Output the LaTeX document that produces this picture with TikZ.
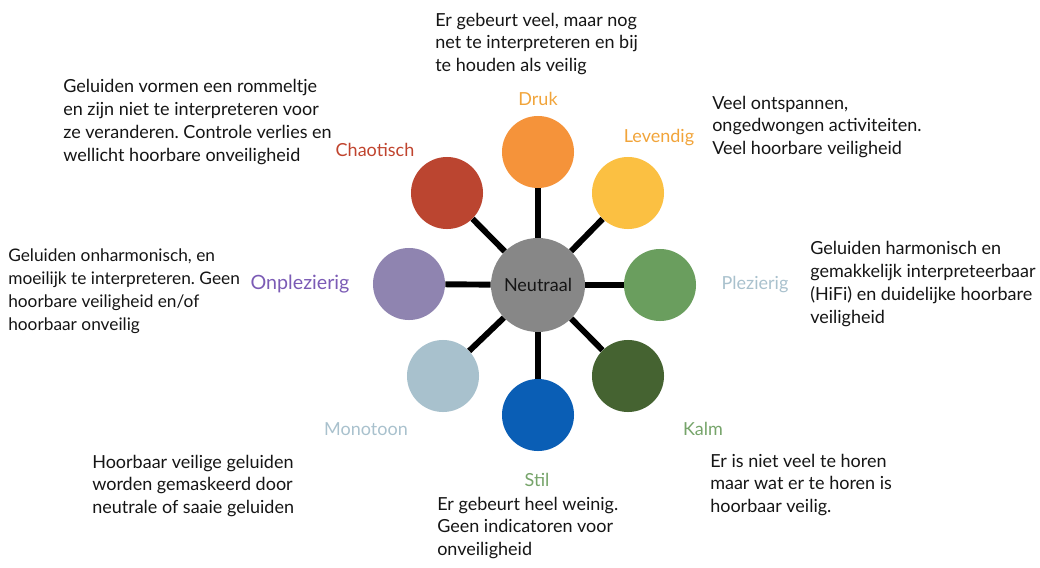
\documentclass[tikz,border=0pt]{standalone}
\usepackage{fontspec}
\setmainfont{Lato}
\frenchspacing
\definecolor{cDruk}{HTML}{F5933A}
\definecolor{cLevendig}{HTML}{FBC042}
\definecolor{cPlezierig}{HTML}{6A9E5E}
\definecolor{cKalm}{HTML}{456331}
\definecolor{cStil}{HTML}{0A5EB5}
\definecolor{cMonotoon}{HTML}{A8C1CD}
\definecolor{cOnplezierig}{HTML}{8F84B0}
\definecolor{cChaotisch}{HTML}{BB4530}
\definecolor{cNeutraal}{HTML}{878787}
\definecolor{lDruk}{HTML}{F1A43A}
\definecolor{lChaotisch}{HTML}{C0442E}
\definecolor{lOnplezierig}{HTML}{7B5BB5}
\definecolor{lBlauw}{HTML}{A9C1CD}
\definecolor{lGroen}{HTML}{76A46A}
\definecolor{tekst}{HTML}{151515}
\tikzset{
  bol/.style={circle, draw=none, minimum size=1.8cm, inner sep=0pt},
  spoke/.style={line width=4.2pt, black},
  label/.style={font=\fontsize{12.8}{16}\selectfont, inner sep=0pt},
  uitleg/.style={font=\fontsize{12.8}{16.3}\selectfont, text=tekst, align=left, anchor=west, inner sep=0pt}
}
\begin{document}
\begin{tikzpicture}[x=0.025cm, y=-0.025cm]
   \useasboundingbox (0,0) rectangle (1040,567);
   % centre and the eight states round it
   \node[bol, fill=cNeutraal, minimum size=2.35cm, font=\fontsize{12.8}{14}\selectfont, text=tekst] (neutraal) at (538,285) {Neutraal};
   \node[bol, fill=cDruk] (druk) at (538,152) {};
   \node[bol, fill=cLevendig] (levendig) at (628,193) {};
   \node[bol, fill=cPlezierig] (plezierig) at (660,285) {};
   \node[bol, fill=cKalm] (kalm) at (628,376) {};
   \node[bol, fill=cStil] (stil) at (538,415) {};
   \node[bol, fill=cMonotoon] (monotoon) at (443,376) {};
   \node[bol, fill=cOnplezierig] (onplezierig) at (409,284) {};
   \node[bol, fill=cChaotisch] (chaotisch) at (447,193) {};
   \foreach \n in {druk,levendig,plezierig,kalm,stil,monotoon,onplezierig,chaotisch}
      \draw[spoke] (neutraal) -- (\n);
   % names
   \node[label, text=lDruk] (drukL) at (538,99) {Druk};
   \node[label, text=lDruk] (levendigL) at (659,138) {Levendig};
   \node[label, text=lBlauw] (plezierigL) at (755,285) {Plezierig};
   \node[label, text=lGroen] (kalmL) at (703,429) {Kalm};
   \node[label, text=lGroen] (stilL) at (537,480) {Stil};
   \node[label, text=lBlauw] (monotoonL) at (366,429) {Monotoon};
   \node[label, text=lOnplezierig, font=\fontsize{14}{16}\selectfont] (onplezierigL) at (300,284) {Onplezierig};
   \node[label, text=lChaotisch] (chaotischL) at (375,150) {Chaotisch};
   % descriptions
   \node[uitleg] (drukT) at (435,44) {Er gebeurt veel, maar nog\\net te interpreteren en bij\\te houden als veilig};
   \node[uitleg] (levendigT) at (712,127) {Veel ontspannen,\\ongedwongen activiteiten.\\Veel hoorbare veiligheid};
   \node[uitleg] (plezierigT) at (810,284) {Geluiden harmonisch en\\gemakkelijk interpreteerbaar\\(HiFi) en duidelijke hoorbare\\veiligheid};
   \node[uitleg] (kalmT) at (710,485) {Er is niet veel te horen\\maar wat er te horen is\\hoorbaar veilig.};
   \node[uitleg] (stilT) at (437,528) {Er gebeurt heel weinig.\\Geen indicatoren voor\\onveiligheid};
   \node[uitleg] (monotoonT) at (92,486) {Hoorbaar veilige geluiden\\worden gemaskeerd door\\neutrale of saaie geluiden};
   \node[uitleg, font=\fontsize{12.3}{16.3}\selectfont] (onplezierigT) at (8,291) {Geluiden onharmonisch, en\\moeilijk te interpreteren. Geen\\hoorbare veiligheid en/of\\hoorbaar onveilig};
   \node[uitleg] (chaotischT) at (63,122) {Geluiden vormen een rommeltje\\en zijn niet te interpreteren voor\\ze veranderen. Controle verlies en\\wellicht hoorbare onveiligheid};
\end{tikzpicture}
\end{document}
